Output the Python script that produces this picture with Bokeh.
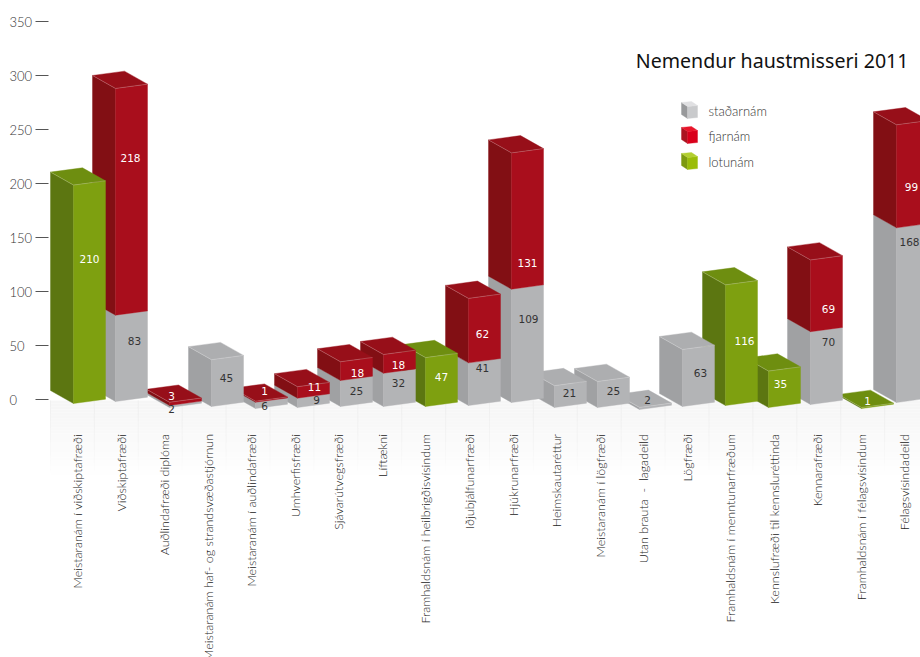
import math
from bokeh.plotting import figure
from bokeh.models import Range1d, LinearAxis, FixedTicker, ColumnDataSource
from bokeh.core.properties import value
from bokeh.embed import file_html
from bokeh.resources import INLINE

# ---- data ----
categories = ["Meistaranám í viðskiptafræði", "Viðskiptafræði", "Auðlindafræði diplóma",
              "Meistaranám haf- og strandsvæðastjórnun", "Meistaranám í auðlindafræði", "Umhverfisfræði",
              "Sjávarútvegsfræði", "Líftækni", "Framhaldsnám í heilbrigðisvísindum", "Iðjubjálfunarfræði",
              "Hjúkrunarfræði", "Heimskautaréttur", "Meistaranám í lögfræði", "Utan brauta\u00a0 -\u00a0 lagadeild",
              "Lögfræði", "Framhaldsnám í menntunarfræðum", "Kennslufræði til kennsluréttinda",
              "Kennarafræði", "Framhaldsnám í félagsvísindum", "Félagsvísindadeild"]
stadarnam = [0, 83, 2, 45, 6, 9, 25, 32, 0, 41, 109, 21, 25, 2, 63, 0, 0, 70, 0, 168]
fjarnam   = [0, 218, 3, 0, 1, 11, 18, 18, 0, 62, 131, 0, 0, 0, 0, 0, 0, 69, 0, 99]
lotunam   = [210, 0, 0, 0, 0, 0, 0, 0, 47, 0, 0, 0, 0, 0, 0, 116, 35, 0, 1, 0]
y_ticks = [0, 50, 100, 150, 200, 250, 300, 350]
title_text = "Nemendur haustmisseri 2011"
legend_names = ["staðarnám", "fjarnám", "lotunám"]

# ---- layout (screen geometry of the pseudo-3D scene) ----
W, H = 920, 657
Y0_PX, AXIS_PX = 399.0, 1.08        # axis: px of 0, px per unit
BAR_PX = 1.04                       # px per unit on the front faces (nearer than axis)
front_w, depth_x, depth_y, slope = 32, 23, 13, 4.3
right_edge = [105, 147, 201, 243, 287, 329, 372, 415, 457, 500, 543, 586, 629, 671, 714, 757, 800, 842, 893, 928]
base_px = [403, 401, 407, 406, 408, 407, 406, 406, 406, 405, 402, 407, 407, 409, 406, 405, 407, 404, 408, 402]
scale_fix = {14: 0.87}              # this bar is drawn shorter than its label says in the reference
lab_dx_lo = [0, 3, -14, -1, -7, 3, 0, -1, 0, -2, 1, -1, 0, -8, 2, 3, -4, 2, -10, -3]
lab_dy_lo = [-33, -15, 5, -3, 3, -1, 0, -5, -3, -14, -25, -1, -1, -6, -3, -2, -3, -24, -5, -71]
lab_dx_hi = [0, -1, -14, 0, -7, 1, 1, -1, 0, -2, 0, 0, 0, 0, 0, 0, 0, 2, 0, -1]
lab_dy_hi = [0, -42, -6, 0, -9, -3, 4, 3, 0, 6, 44, 0, 0, 0, 0, 0, 0, 15, 0, 13]

colors = {  # front, side, top
    "gray": ("#b3b4b6", "#a0a1a3", "#adaeb0"),
    "red": ("#a90e1c", "#820f14", "#970f19"),
    "green": ("#7ea010", "#5c7611", "#6e8e10"),
}
cube_colors = {
    "gray": ("#c9cacc", "#98999b", "#e0e0e2"),
    "red": ("#d9001b", "#ab1420", "#e8152a"),
    "green": ("#9bbd08", "#7d9a10", "#b3cf30"),
}


def dy(px):      # screen px -> data y
    return (Y0_PX - px) / AXIS_PX


def dh(px):      # screen height -> data height
    return px / AXIS_PX


p = figure(width=W, height=H, x_range=Range1d(0, W), y_range=Range1d(dy(H), dy(0)),
           output_backend="svg", toolbar_location=None, min_border=0, outline_line_color=None,
           x_axis_type=None, y_axis_type=None, margin=(0, 0, 0, 0), background_fill_color="white",
           border_fill_color="white")
p.xgrid.visible = False
p.ygrid.visible = False

# floor: fading strip and column separators
n = 26
strip_top = [400 + 3 * k for k in range(n)]
p.quad(left=50, right=W, top=[dy(t) for t in strip_top], bottom=[dy(t + 3) for t in strip_top],
       fill_color="#f5f5f5", line_color=None, fill_alpha=[0.95 * (1 - k / n) for k in range(n)])
sep_x = [50 + 43.9 * k for k in range(20)]
for k in range(10):
    p.segment(x0=sep_x, x1=sep_x, y0=dy(400 + 7 * k), y1=dy(407 + 7 * k), line_color="#eeeeee",
              line_width=1, line_alpha=0.9 * (1 - k / 10))

xs, ys, fills, hi_x, hi_y = [], [], [], [], []


def box(xf, y_bottom, h, cols, top=True, w=front_w, ddx=depth_x, ddy=depth_y, sl=slope, edges=True):
    """One cuboid from its front-left bottom corner (xf, y_bottom in data), h in data units."""
    front, side, tp = cols
    d_dy, d_sl = dh(ddy), dh(sl)
    xs.append([xf - ddx, xf, xf, xf - ddx])
    ys.append([y_bottom + d_dy, y_bottom, y_bottom + h, y_bottom + h + d_dy])
    fills.append(side)
    xs.append([xf, xf + w, xf + w, xf])
    ys.append([y_bottom, y_bottom + d_sl, y_bottom + d_sl + h, y_bottom + h])
    fills.append(front)
    if top:
        yt = y_bottom + h
        xs.append([xf, xf + w, xf + w - ddx, xf - ddx])
        ys.append([yt, yt + d_sl, yt + d_sl + d_dy, yt + d_dy])
        fills.append(tp)
        if edges:
            hi_x.append([xf - ddx, xf, xf + w])
            hi_y.append([yt + d_dy, yt, yt + d_sl])


def flush():
    p.patches(list(xs), list(ys), fill_color=list(fills), line_color=list(fills), line_width=0.4)
    if hi_x:
        p.multi_line(list(hi_x), list(hi_y), line_color="#ffffff", line_alpha=0.22, line_width=1)
    xs.clear(); ys.clear(); fills.clear(); hi_x.clear(); hi_y.clear()


for i in reversed(range(len(categories))):
    xf = right_edge[i] - front_w
    y = dy(base_px[i])
    k = dh(BAR_PX) * scale_fix.get(i, 1.0)
    segs = [(stadarnam[i], "gray"), (fjarnam[i], "red"), (lotunam[i], "green")]
    segs = [s for s in segs if s[0] > 0]
    for j, (v, name) in enumerate(segs):
        box(xf, y, v * k, colors[name], top=(j == len(segs) - 1))
        y += v * k
    flush()

# legend cubes
legend_px = [118, 143, 169]
for py, name in zip(legend_px, ["gray", "red", "green"]):
    box(687, dy(py), dh(12), cube_colors[name], w=10, ddx=6, ddy=4, sl=1, edges=False)
flush()

# value labels
lx, ly, lt, lc, ldx, ldy = [], [], [], [], [], []
for i in range(len(categories)):
    xc = right_edge[i] - front_w / 2
    b = dy(base_px[i] - slope / 2)
    k = dh(BAR_PX)
    s, f, l = stadarnam[i], fjarnam[i], lotunam[i]
    fix = scale_fix.get(i, 1.0)
    if s:
        lx.append(xc); ly.append(b + s / 2 * k * fix); lt.append(str(s)); lc.append("#333333")
        ldx.append(lab_dx_lo[i]); ldy.append(lab_dy_lo[i])
    if f:
        lx.append(xc); ly.append(b + (s + f / 2) * k); lt.append(str(f)); lc.append("#ffffff")
        ldx.append(lab_dx_hi[i]); ldy.append(lab_dy_hi[i])
    if l:
        lx.append(xc); ly.append(b + l / 2 * k); lt.append(str(l)); lc.append("#ffffff")
        ldx.append(lab_dx_lo[i]); ldy.append(lab_dy_lo[i])
src = ColumnDataSource(dict(x=lx, y=ly, t=lt, c=lc, dx=ldx, dy=ldy))
p.text("x", "y", text="t", source=src, x_offset="dx", y_offset="dy", text_color="c", text_align="center",
       text_baseline="middle", text_font=value("DejaVu Sans"), text_font_size="10.5px")

# y axis: tick marks from the axis, labels left-aligned beside them
ya = LinearAxis(fixed_location=48, ticker=FixedTicker(ticks=y_ticks))
ya.axis_line_color = None
ya.major_tick_out = 13
ya.major_tick_in = 0
ya.minor_tick_line_color = None
ya.major_tick_line_color = "#555555"
ya.major_tick_line_width = 1
ya.major_label_overrides = {t: "" for t in y_ticks}
p.add_layout(ya, "left")
p.text([9] * len(y_ticks), y_ticks, text=[str(t) for t in y_ticks], text_baseline="middle",
       text_font=value("Lato Light"), text_font_size="13px", text_color="#333333")

# category axis: index range mapped on the shared frame
LAB0, LABSTEP = 77.0, 43.55
p.extra_x_ranges = {"cat": Range1d((0 - LAB0) / LABSTEP, (W - LAB0) / LABSTEP)}
xa = LinearAxis(x_range_name="cat", fixed_location=dy(433.5), ticker=FixedTicker(ticks=list(range(len(categories)))))
xa.major_label_overrides = {i: c for i, c in enumerate(categories)}
xa.axis_line_color = None
xa.major_tick_line_color = None
xa.minor_tick_line_color = None
xa.major_tick_out = 0
xa.major_tick_in = 0
xa.major_label_standoff = 0
xa.major_label_orientation = math.pi / 2
xa.major_label_text_font = "Lato Light"
xa.major_label_text_font_size = "12.5px"
xa.major_label_text_color = "#222222"
p.add_layout(xa, "below")

# title and legend labels
p.text([908], [dy(60)], text=[title_text], text_align="right", text_baseline="middle",
       text_font=value("Noto Sans"), text_font_size="19.6px", text_color="#111111")
p.text([708] * 3, [dy(110), dy(135), dy(161)], text=legend_names, text_baseline="middle",
       text_font=value("Lato Light"), text_font_size="13px", text_color="#333333")

open("out.html", "w").write(file_html(p, INLINE))
